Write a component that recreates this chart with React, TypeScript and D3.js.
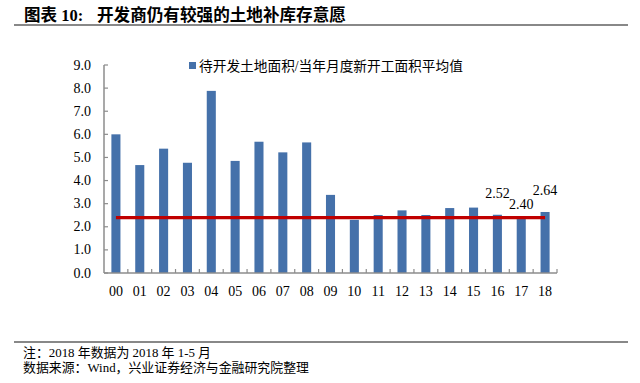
import React from "react";
import * as d3 from "d3";

const years = ["00","01","02","03","04","05","06","07","08","09","10","11","12","13","14","15","16","17","18"];
const ratio = [6.0,4.67,5.38,4.77,7.88,4.85,5.68,5.22,5.65,3.38,2.3,2.51,2.71,2.51,2.81,2.83,2.52,2.40,2.64];
const avgValue = 2.40;
const yTicks = [0,1,2,3,4,5,6,7,8,9];
const labeled = ["16","17","18"];
const legendLabel = "待开发土地面积/当年月度新开工面积平均值";
const titleHead = "图表 10:";
const titleBody = "开发商仍有较强的土地补库存意愿";
const note1 = "注：2018 年数据为 2018 年 1-5 月";
const note2 = "数据来源：Wind，兴业证券经济与金融研究院整理";

const W = 640, H = 383;
const left = 104, right = 557, top = 65, bottom = 273;
const serif = "'Liberation Serif', 'Times New Roman', 'Noto Sans CJK SC', serif";
const cjk = "'Liberation Serif', 'Noto Sans CJK SC', sans-serif";

export default function App() {
  const x = d3.scaleBand<string>().domain(years).range([left, right]).paddingInner(0.62).paddingOuter(0.31);
  const y = d3.scaleLinear().domain([0, 9]).range([bottom, top]);
  const step = x.step();
  const line = d3.line<string>().x(d => (x(d) as number) + x.bandwidth() / 2).y(() => y(avgValue));
  return (
    <svg width={W} height={H} style={{ position: "absolute", left: 0, top: 0, background: "#fff" }}>
      <text x={24} y={21} fontFamily="'Liberation Serif', 'Noto Sans CJK SC', sans-serif" fontWeight="bold" fontSize={16.5} fill="#000">{titleHead}</text>
      <text x={97} y={21} fontFamily="'Noto Sans CJK SC', sans-serif" fontWeight="bold" fontSize={16.6} fill="#000">{titleBody}</text>
      <line x1={14} x2={628} y1={25} y2={25} stroke="#888" strokeWidth={2} />
      {ratio.map((v, i) => (
        <rect key={years[i]} x={x(years[i])} y={y(v)} width={x.bandwidth()} height={bottom - y(v)} fill="#4571AA" />
      ))}
      <path d={line(years) || ""} fill="none" stroke="#C00000" strokeWidth={3.2} />
      <line x1={left} x2={left} y1={top} y2={bottom} stroke="#8c8c8c" strokeWidth={1.5} />
      {yTicks.map(t => (
        <g key={t}>
          <line x1={left} x2={left + 4} y1={y(t)} y2={y(t)} stroke="#8c8c8c" strokeWidth={1.2} />
          <text x={91} y={y(t) + 4.5} textAnchor="end" fontFamily={serif} fontSize={14} fill="#000">{t.toFixed(1)}</text>
        </g>
      ))}
      <line x1={left} x2={right} y1={bottom} y2={bottom} stroke="#8c8c8c" strokeWidth={1.5} />
      {years.map((yr, i) => (
        <g key={yr}>
          <line x1={left + step * (i + 1)} x2={left + step * (i + 1)} y1={bottom} y2={bottom - 4} stroke="#8c8c8c" strokeWidth={1.2} />
          <text x={(x(yr) as number) + x.bandwidth() / 2} y={296} textAnchor="middle" fontFamily={serif} fontSize={14} fill="#000">{yr}</text>
        </g>
      ))}
      {labeled.map(yr => {
        const i = years.indexOf(yr);
        const v = ratio[i];
        const cx = (x(yr) as number) + x.bandwidth() / 2;
        const ty = yr === "17" ? y(avgValue) - 8.5 : y(Math.max(v, avgValue)) - 17;
        return <text key={yr} x={cx} y={ty} textAnchor="middle" fontFamily={serif} fontSize={14} fill="#000">{v.toFixed(2)}</text>;
      })}
      <rect x={189} y={62} width={7} height={7} fill="#4571AA" />
      <text x={199} y={70.5} fontFamily={cjk} fontSize={13.7} fill="#000">{legendLabel}</text>
      <line x1={14} x2={628} y1={342} y2={342} stroke="#888" strokeWidth={2} />
      <text x={23} y={357} fontFamily={cjk} fontSize={12.9} fill="#000">{note1}</text>
      <text x={23} y={372} fontFamily={cjk} fontSize={12.9} fill="#000">{note2}</text>
    </svg>
  );
}
